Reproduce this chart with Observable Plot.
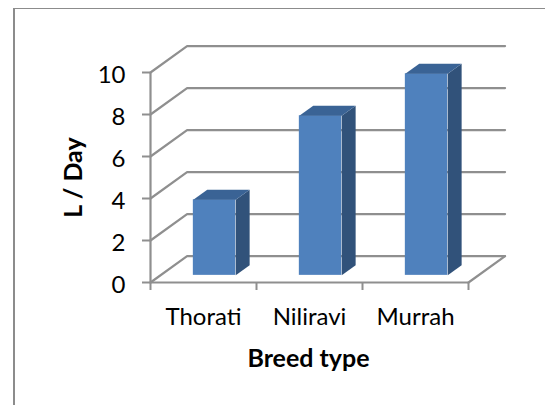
<!DOCTYPE html>
<html><head><meta charset="utf-8">
<script src="https://cdn.jsdelivr.net/npm/d3@7"></script>
<script src="https://cdn.jsdelivr.net/npm/@observablehq/plot@0.6"></script>
<style>
html,body{margin:0;padding:0;background:#fff}
#wrap{position:relative;width:545px;height:405px;overflow:hidden}
#box{position:absolute;left:13px;top:8px;width:600px;height:460px;border-left:2px solid #8c8c8c;border-top:1.5px solid #8c8c8c;box-sizing:border-box}
svg{position:absolute;left:0;top:0}
</style></head><body><div id="wrap"><div id="box"></div><div id="chart"></div></div>
<script>
const breeds = ["Thorati", "Niliravi", "Murrah"];
const litres = [3.6, 7.6, 9.6];
const gridValues = [0, 2, 4, 6, 8, 10];
const xTickEdges = [0, 1, 2, 3];

const depthX = 0.345, depthY = 1.26;
const proj = (x, y, d) => ({x: x + d * depthX, y: y + d * depthY});
const barL = 0.311, barR = 0.711, dFront = 0.27, dBack = 0.65;

const grid = gridValues.flatMap(v => [
  {g: v, ...proj(0, v, 0)}, {g: v, ...proj(0, v, 1)}, {g: v, ...proj(3, v, 1)}
]);
const floorEdge = [proj(3, 0, 1), proj(3, 0, 0)];

const front = litres.map((v, i) => {
  const a = proj(i + barL, 0, dFront), b = proj(i + barR, v, dFront);
  return {x1: a.x, x2: b.x, y1: a.y, y2: b.y};
});
const side = litres.flatMap((v, i) => [
  {i, ...proj(i + barR, 0, dFront)}, {i, ...proj(i + barR, v, dFront)},
  {i, ...proj(i + barR, v, dBack)}, {i, ...proj(i + barR, 0, dBack)}
]);
const top_ = litres.flatMap((v, i) => [
  {i, ...proj(i + barL, v, dFront)}, {i, ...proj(i + barR, v, dFront)},
  {i, ...proj(i + barR, v, dBack)}, {i, ...proj(i + barL, v, dBack)}
]);

const gridColor = "#8f8f8f";
const font = "Lato, 'Open Sans', sans-serif";

const plot = Plot.plot({
  width: 545, height: 405,
  marginLeft: 150, marginRight: 77, marginTop: 72, marginBottom: 123,
  style: {background: "transparent", fontFamily: font, overflow: "visible"},
  x: {type: "linear", domain: [0, 3]},
  y: {domain: [0, 10]},
  marks: [
    Plot.line(grid, {x: "x", y: "y", z: "g", stroke: gridColor, strokeWidth: 2.2}),
    Plot.line(floorEdge, {x: "x", y: "y", stroke: gridColor, strokeWidth: 2.2}),
    Plot.ruleX([0], {y1: 0, y2: 10, stroke: gridColor, strokeWidth: 2.2}),
    Plot.ruleY([0], {x1: 0, x2: 3, stroke: gridColor, strokeWidth: 2.2}),
    Plot.rect(front, {x1: "x1", x2: "x2", y1: "y1", y2: "y2", fill: "#4f81bd"}),
    Plot.line(side, {x: "x", y: "y", z: "i", fill: "#31527a", stroke: "none"}),
    Plot.line(top_, {x: "x", y: "y", z: "i", fill: "#3a6395", stroke: "none"}),
    Plot.axisY(gridValues, {anchor: "left", tickSize: 8, tickFormat: () => "", label: null, stroke: gridColor, strokeWidth: 2}),
    Plot.axisY(gridValues, {anchor: "left", tickSize: 0, tickPadding: 25, dy: 3, fontSize: 24, label: null, color: "#000"}),
    Plot.axisX(xTickEdges, {anchor: "bottom", tickSize: 8, tickFormat: () => "", label: null, stroke: gridColor, strokeWidth: 2}),
    Plot.axisX(breeds.map((b, i) => i + 0.5), {anchor: "bottom", tickSize: 0, tickPadding: 25, fontSize: 24, label: null, tickFormat: (d, i) => breeds[i], color: "#000"}),
    Plot.text(["Breed type"], {frameAnchor: "bottom", dy: 84, dx: -1, fontSize: 25, fontWeight: "bold", fill: "#000"}),
    Plot.text(["L / Day"], {frameAnchor: "left", textAnchor: "middle", dx: -77, rotate: -90, fontSize: 25, fontWeight: "bold", fill: "#000"})
  ]
});
document.getElementById("chart").append(plot);
</script></body></html>
